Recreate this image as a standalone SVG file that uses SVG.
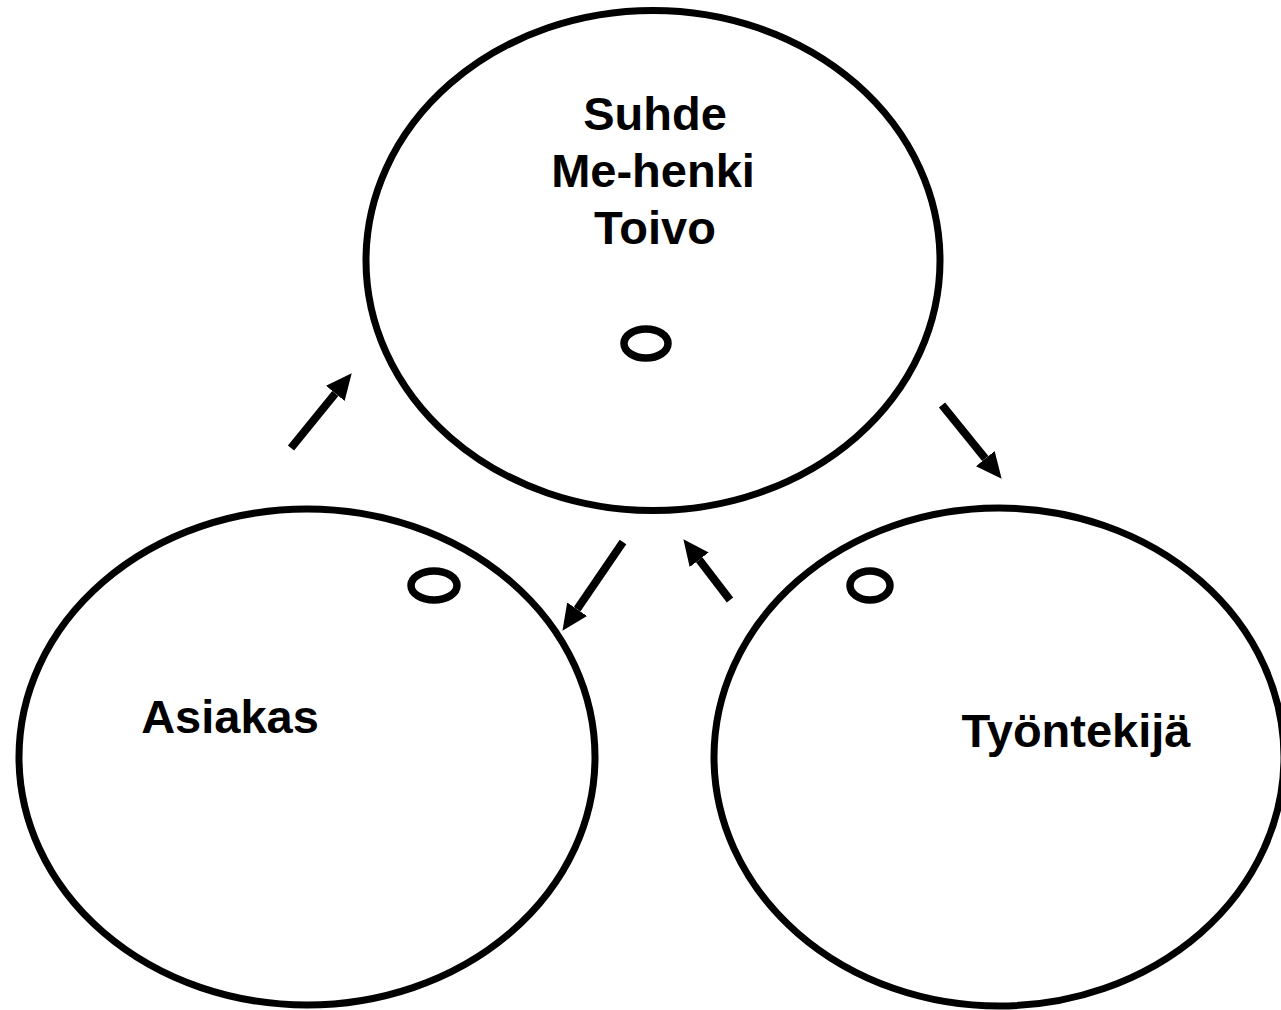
<svg xmlns="http://www.w3.org/2000/svg" width="1281" height="1010" viewBox="0 0 1281 1010">
  <style>
    .big { fill: none; stroke: #000; stroke-width: 7; }
    .small { fill: none; stroke: #000; stroke-width: 7.5; }
    .lbl { font-family: "Liberation Sans", Arial, sans-serif; font-weight: bold; font-size: 47px; fill: #000; text-anchor: middle; }
    .arr { stroke: #000; stroke-width: 8; fill: none; marker-end: url(#head); }
  </style>
  <defs>
    <marker id="head" markerUnits="userSpaceOnUse" viewBox="0 -13 26 26" refX="0" refY="0" markerWidth="26" markerHeight="26" orient="auto">
      <path d="M0,-12 L26,0 L0,12 z" fill="#000"/>
    </marker>
  </defs>
  <rect width="1281" height="1010" fill="#fff"/>

  <g id="node-top">
    <ellipse class="big" cx="653" cy="260.5" rx="287" ry="250"/>
    <ellipse class="small" cx="646" cy="343.5" rx="22" ry="14.5"/>
    <text class="lbl" x="655" y="130">Suhde</text>
    <text class="lbl" x="653" y="187">Me-henki</text>
    <text class="lbl" x="655" y="244">Toivo</text>
  </g>

  <g id="node-asiakas">
    <ellipse class="big" cx="307" cy="757" rx="288" ry="248"/>
    <ellipse class="small" cx="434" cy="585.5" rx="23" ry="14.5"/>
    <text class="lbl" x="230" y="733">Asiakas</text>
  </g>

  <g id="node-tyontekija">
    <ellipse class="big" cx="999" cy="757" rx="285" ry="249"/>
    <ellipse class="small" cx="870" cy="585.5" rx="20" ry="14.5"/>
    <text class="lbl" x="1076" y="747">Työntekijä</text>
  </g>

  <g id="connectors">
    <line class="arr" x1="291" y1="448" x2="335.3" y2="393.4"/>
    <line class="arr" x1="942" y1="405" x2="985.3" y2="458.6"/>
    <line class="arr" x1="623" y1="542" x2="577.1" y2="609.3"/>
    <line class="arr" x1="730" y1="600" x2="699.2" y2="559.8"/>
  </g>
</svg>
